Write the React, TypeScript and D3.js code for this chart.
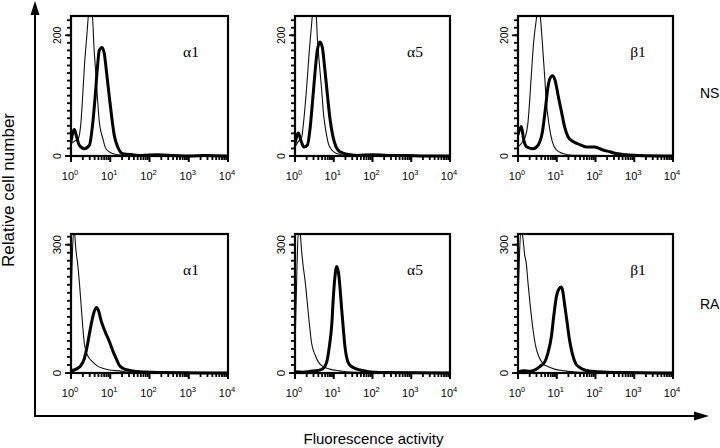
import React from 'react';
import * as d3 from 'd3';

// ---- data: [log10 fluorescence, relative cell count] ----
const nsA1Control = [[0,20],[0.1,25],[0.18,28],[0.255,57],[0.30,102],[0.34,147],[0.40,197],[0.47,245],[0.53,245],[0.59,175],[0.64,130],[0.68,91],[0.72,57],[0.81,29],[0.89,12],[1.06,4],[1.2,2],[1.5,1],[2,0],[4,0]];
const nsA1Stain = [[0,24],[0.085,44],[0.13,35],[0.21,18],[0.34,12],[0.47,18],[0.55,52],[0.62,102],[0.68,152],[0.72,175],[0.79,180],[0.85,169],[0.91,136],[0.98,96],[1.04,63],[1.10,35],[1.19,15],[1.32,4],[1.57,2],[1.8,1],[2.2,2],[2.6,1],[3.0,0],[3.4,1],[4,0]];
const nsA5Control = [[0,15],[0.1,25],[0.17,30],[0.215,52],[0.30,113],[0.37,175],[0.43,220],[0.47,245],[0.54,240],[0.575,197],[0.63,152],[0.69,108],[0.73,74],[0.80,40],[0.86,21],[0.95,10],[1.08,4],[1.3,1],[4,0]];
const nsA5Stain = [[0,21],[0.086,38],[0.15,26],[0.23,15],[0.32,18],[0.39,46],[0.46,96],[0.52,141],[0.575,175],[0.645,189],[0.705,180],[0.765,147],[0.835,102],[0.90,63],[0.97,35],[1.06,15],[1.16,7],[1.34,3],[1.6,1],[2.0,2],[2.4,1],[2.9,1],[3.3,0],[4,0]];
const nsB1Control = [[0,15],[0.1,22],[0.18,30],[0.26,57],[0.34,130],[0.40,186],[0.47,225],[0.525,245],[0.575,231],[0.63,186],[0.69,130],[0.73,91],[0.80,52],[0.885,24],[0.99,10],[1.16,4],[1.4,1],[4,0]];
const nsB1Stain = [[0,35],[0.086,49],[0.15,26],[0.23,15],[0.39,12],[0.52,18],[0.63,40],[0.71,80],[0.77,113],[0.835,130],[0.90,133],[0.97,122],[1.03,102],[1.12,74],[1.20,49],[1.29,32],[1.42,24],[1.59,19],[1.76,15],[1.98,15],[2.19,10],[2.37,7],[2.54,4],[2.8,2],[3.1,1],[4,0]];
const raA1Control = [[0,145],[0.04,290],[0.08,335],[0.127,286],[0.17,255],[0.21,216],[0.255,162],[0.30,108],[0.34,69],[0.40,46],[0.47,34],[0.55,26],[0.68,16],[0.81,11],[0.98,7],[1.23,5],[1.5,2],[2,1],[4,0]];
const raA1Stain = [[0,5],[0.08,7],[0.17,11],[0.255,18],[0.34,34],[0.40,57],[0.47,92],[0.535,123],[0.59,143],[0.65,153],[0.70,146],[0.765,123],[0.82,108],[0.89,92],[0.98,73],[1.06,53],[1.15,34],[1.23,18],[1.32,11],[1.44,7],[1.57,5],[1.75,3],[2.0,2],[2.3,1],[4,0]];
const raA5Control = [[0,58],[0.05,243],[0.09,335],[0.13,330],[0.17,286],[0.215,247],[0.26,216],[0.32,162],[0.37,115],[0.43,69],[0.52,42],[0.60,26],[0.73,15],[0.90,9],[1.16,5],[1.4,2],[2,1],[4,0]];
const raA5Stain = [[0,3],[0.2,2],[0.4,4],[0.6,6],[0.73,11],[0.82,26],[0.885,61],[0.95,115],[0.99,178],[1.03,224],[1.075,249],[1.12,236],[1.16,201],[1.20,154],[1.25,100],[1.29,61],[1.35,30],[1.42,18],[1.55,11],[1.68,7],[1.9,3],[2.2,1],[4,0]];
const raB1Control = [[0,165],[0.04,281],[0.08,335],[0.12,320],[0.17,278],[0.215,255],[0.26,209],[0.32,154],[0.39,100],[0.46,61],[0.54,38],[0.645,22],[0.77,15],[0.94,9],[1.2,5],[1.5,2],[2,1],[4,0]];
const raB1Stain = [[0,3],[0.15,5],[0.3,4],[0.45,8],[0.56,15],[0.69,26],[0.77,46],[0.86,84],[0.92,131],[0.99,178],[1.06,197],[1.12,201],[1.16,189],[1.20,162],[1.26,123],[1.33,77],[1.40,46],[1.49,22],[1.59,13],[1.72,7],[1.9,4],[2.3,2],[2.7,1],[4,0]];

const markerLabels = ['α1', 'α5', 'β1'];
const conditionLabels = ['NS', 'RA'];
const yLabelTick = [200, 300];
const yDomainMax = [232, 325];
const decadeExps = [0, 1, 2, 3, 4];

const controls = [[nsA1Control, nsA5Control, nsB1Control], [raA1Control, raA5Control, raB1Control]];
const stains = [[nsA1Stain, nsA5Stain, nsB1Stain], [raA1Stain, raA5Stain, raB1Stain]];

const W = 720, H = 448;
const COLS = [[71, 228], [295, 450], [518, 673]];
const ROWS = [[16, 156], [234, 373]];
const SANS = '"Liberation Sans", Arial, sans-serif';
const SERIF = '"Liberation Serif", "Times New Roman", serif';

function Panel({ r, c }: { r: number; c: number }) {
  const [x0, x1] = COLS[c];
  const [yt, yb] = ROWS[r];
  const x = d3.scaleLog().domain([1, 1e4]).range([x0, x1]);
  const y = d3.scaleLinear().domain([0, yDomainMax[r]]).range([yb, yt]);
  const curve = d3.line<number[]>()
    .x(d => x(Math.pow(10, d[0])))
    .y(d => y(d[1]))
    .curve(d3.curveMonotoneX);
  const id = `clip-${r}-${c}`;
  const minor: number[] = [];
  for (let e = 0; e < 4; e++) for (let k = 2; k <= 9; k++) minor.push(k * Math.pow(10, e));
  const step = yLabelTick[r] / 16;
  const yMinor: number[] = [];
  for (let v = 0; v <= yDomainMax[r] + 0.01; v += step) yMinor.push(v);
  return (
    <g>
      <defs>
        <clipPath id={id}>
          <rect x={x0} y={yt} width={x1 - x0} height={yb - yt + 2} />
        </clipPath>
      </defs>
      <g clipPath={`url(#${id})`}>
        <path d={curve(controls[r][c] as any) || ''} fill="none" stroke="#111" strokeWidth={1.1} />
        <path d={curve(stains[r][c] as any) || ''} fill="none" stroke="#000" strokeWidth={3} strokeLinejoin="round" />
      </g>
      <rect x={x0} y={yt} width={x1 - x0} height={yb - yt} fill="none" stroke="#000" strokeWidth={2.2} />
      {yMinor.map((v, i) => (
        <rect key={'ym' + i} x={x0 - 4} y={y(v) - 0.9} width={4} height={1.8} fill="#000" />
      ))}
      {[0, yLabelTick[r]].map(v => (
        <rect key={'yM' + v} x={x0 - 6} y={y(v) - 0.9} width={6} height={1.8} fill="#000" />
      ))}
      {minor.map((v, i) => (
        <rect key={'xm' + i} x={x(v) - 0.9} y={yb} width={1.8} height={4} fill="#000" />
      ))}
      {decadeExps.map(e => (
        <rect key={'xM' + e} x={x(Math.pow(10, e)) - 1} y={yb} width={2} height={6} fill="#000" />
      ))}
      {[0, yLabelTick[r]].map(v => (
        <text key={'yl' + v} transform={`translate(${x0 - 10.5},${y(v)}) rotate(-90)`} textAnchor="middle"
          fontFamily={SANS} fontSize={r === 0 ? 10.5 : 11.5}>{v}</text>
      ))}
      {decadeExps.map(e => (
        <text key={'xd' + e} x={x(Math.pow(10, e)) - 1} y={yb + 23.5} textAnchor="middle" fontFamily={SANS} fontSize={11}>
          10<tspan dy={-4.5} fontSize={7.5}>{e}</tspan>
        </text>
      ))}
      <text x={x0 + 120} y={yt + 41} textAnchor="middle" fontFamily={SERIF} fontSize={15.5}>{markerLabels[c]}</text>
    </g>
  );
}

export default function App() {
  return (
    <svg width={W} height={H} style={{ position: 'absolute', left: 0, top: 0, background: '#fff' }}>
      <rect width={W} height={H} fill="#fff" />
      {[0, 1].map(r => (
        <g key={'row' + r}>
          {[0, 1, 2].map(c => <Panel key={`${r}-${c}`} r={r} c={c} />)}
        </g>
      ))}
      {conditionLabels.map((t, r) => (
        <text key={t} x={700} y={r === 0 ? 98 : 309} fontFamily={SANS} fontSize={14}>{t}</text>
      ))}
      <path d="M35,12V417" stroke="#000" strokeWidth={2} />
      <polygon points="35,1 30.5,15 39.5,15" fill="#000" />
      <path d="M34,416H695" stroke="#000" strokeWidth={2} />
      <polygon points="709,416 694,411.5 694,420.5" fill="#000" />
      <text transform="translate(14,190) rotate(-90)" textAnchor="middle" fontFamily={SANS} fontSize={17}>Relative cell number</text>
      <text x={373.5} y={444} textAnchor="middle" fontFamily={SANS} fontSize={15}>Fluorescence activity</text>
    </svg>
  );
}
